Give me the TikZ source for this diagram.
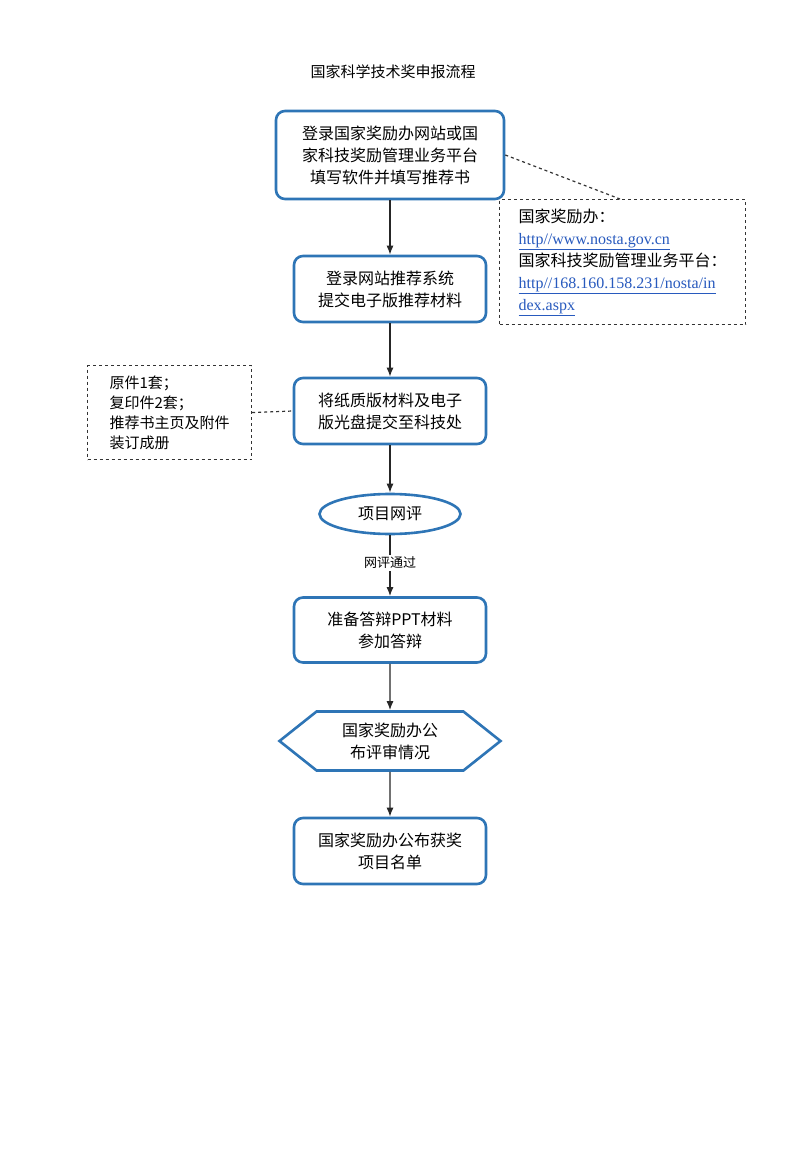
\documentclass[tikz,border=0pt]{standalone}
\usepackage{fontspec}
\setmainfont{Liberation Serif}
\newfontfamily\cjk{Noto Sans CJK SC}
\usetikzlibrary{positioning, shapes.geometric, shapes.symbols, arrows.meta}
\definecolor{boxblue}{RGB}{46,117,182}
\definecolor{linkblue}{RGB}{40,90,190}
\newcommand{\lnk}[1]{\textcolor{linkblue}{\underline{#1}}}
\begin{document}
\begin{tikzpicture}[x=1pt, y=-1pt,
    stage/.style={
      draw=boxblue,
      line width=2.6pt,
      rectangle,
      rounded corners=9pt,
      minimum height=66pt,
      minimum width=192pt,
      align=center,
      font=\cjk\fontsize{16}{22}\selectfont
    },
    note/.style={
      draw=black!80,
      dashed,
      line width=1.2pt,
      align=left,
      font=\fontsize{16}{22}\selectfont
    },
    flow/.style={-{Latex[length=9pt,width=7pt]}, line width=1.3pt, black!85}
]
\useasboundingbox (0,0) rectangle (799,1155);
\fill[white] (0,0) rectangle (799,1155);
% title
\node[font=\cjk\fontsize{15}{18}\selectfont] (title) at (393,72) {国家科学技术奖申报流程};
% main steps
\node[stage, minimum width=228pt, minimum height=88pt] (login) at (390,155)
  {登录国家奖励办网站或国\\家科技奖励管理业务平台\\填写软件并填写推荐书};
\node[stage] (submit) at (390,289) {登录网站推荐系统\\提交电子版推荐材料};
\node[stage] (paper) at (390,411) {将纸质版材料及电子\\版光盘提交至科技处};
\node[ellipse, draw=boxblue, line width=2.6pt, minimum width=141pt, minimum height=40pt,
  font=\cjk\fontsize{16}{20}\selectfont] (review) at (390,514) {项目网评};
\node[font=\cjk\fontsize{13}{16}\selectfont, fill=white, inner sep=2pt] (pass) at (390,563) {网评通过};
\node[stage, minimum height=65pt] (defense) at (390,630) {准备答辩PPT材料\\参加答辩};
\node[signal, signal to=east and west, signal pointer angle=77, draw=boxblue, line width=2.6pt,
  minimum width=221pt, minimum height=59pt, align=center,
  font=\cjk\fontsize{16}{22}\selectfont] (publish) at (390,741) {国家奖励办公\\布评审情况};
\node[stage] (winners) at (390,851) {国家奖励办公布获奖\\项目名单};
% side notes
\node[note, anchor=north west, minimum width=246pt, minimum height=113pt, inner sep=9pt] (site) at (499,199)
  {{\cjk 国家奖励办：}\\\lnk{http//www.nosta.gov.cn}\\{\cjk 国家科技奖励管理业务平台：}\\\lnk{http//168.160.158.231/nosta/in}\\\lnk{dex.aspx}};
\node[note, anchor=north west, minimum width=164pt, minimum height=94pt, inner sep=6pt,
  font=\cjk\fontsize{15}{20}\selectfont] (copies) at (87,365)
  {原件1套；\\复印件2套；\\推荐书主页及附件\\装订成册};
% connectors
\draw[flow] (login) -- (submit);
\draw[flow] (submit) -- (paper);
\draw[flow] (paper) -- (review);
\draw[line width=1.3pt, black!85] (review) -- (pass);
\draw[flow] (pass) -- (defense);
\draw[flow] (defense) -- (publish);
\draw[flow] (publish) -- (winners);
\coordinate (sitetop) at (620,199);
\draw[dashed, line width=1.2pt, black!80] (login.east) -- (sitetop);
\draw[dashed, line width=1.2pt, black!80] (copies.east) -- (paper.west);
\end{tikzpicture}
\end{document}
